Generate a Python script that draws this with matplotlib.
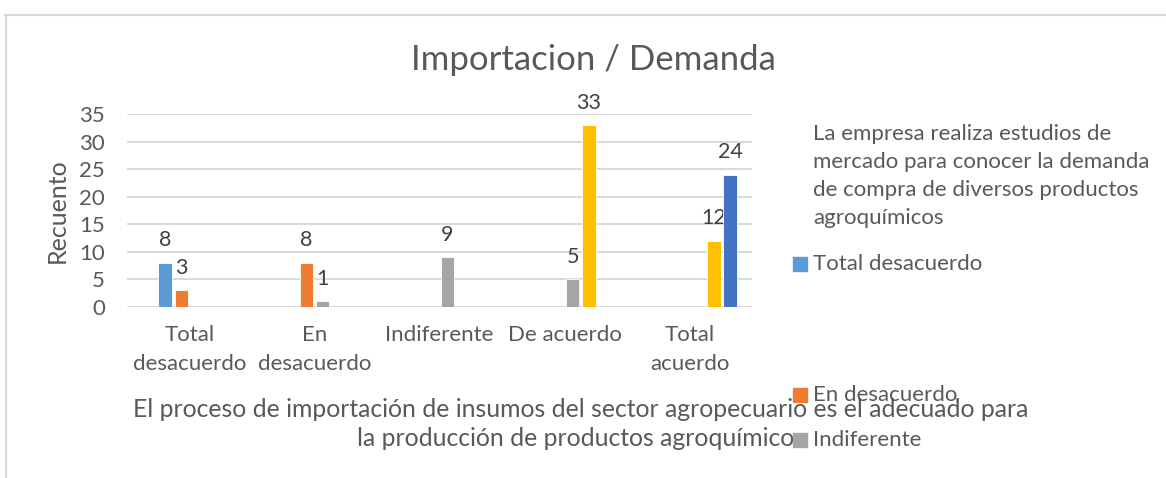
import numpy as np
import matplotlib.pyplot as plt
from matplotlib.patches import Rectangle
from matplotlib.lines import Line2D

plt.rcParams['font.family'] = ['Lato', 'DejaVu Sans']

categories = ['Total\ndesacuerdo', 'En\ndesacuerdo', 'Indiferente', 'De acuerdo', 'Total\nacuerdo']
series_names = ['Total desacuerdo', 'En desacuerdo', 'Indiferente', 'De acuerdo', 'Total acuerdo']
series_colors = ['#5B9BD5', '#ED7D31', '#A5A5A5', '#FFC000', '#4472C4']
total_desacuerdo = [8, 0, 0, 0, 0]
en_desacuerdo = [3, 8, 0, 0, 0]
indiferente = [0, 1, 9, 5, 0]
de_acuerdo = [0, 0, 0, 33, 12]
total_acuerdo = [0, 0, 0, 0, 24]
series_values = [total_desacuerdo, en_desacuerdo, indiferente, de_acuerdo, total_acuerdo]

W, H = 1166, 478
fig = plt.figure(figsize=(W / 100, H / 100), dpi=100)
ax = fig.add_axes([127 / W, 1 - 307 / H, 625 / W, 193 / H])

text_col = '#595959'
x = np.arange(len(categories))
slot = 0.13
bar_w = 0.108
# excel layout: 6 slots per group, the first one empty
for i, (name, vals, col) in enumerate(zip(series_names, series_values, series_colors)):
    off = (i + 1 - 2.5) * slot
    vals = np.array(vals, dtype=float)
    mask = vals > 0
    ax.bar(x[mask] + off, vals[mask], width=bar_w, color=col, edgecolor='white', linewidth=0.6, zorder=3)
    for xi, v in zip(x[mask] + off, vals[mask]):
        ax.annotate(f'{int(v)}', (xi, v), xytext=(0, 9), textcoords='offset points',
                    ha='center', va='bottom', fontsize=15.5, color='#404040')

ax.set_xlim(-0.5, len(categories) - 0.5)
ax.set_ylim(0, 35)
ax.set_yticks(range(0, 36, 5))
ax.set_xticks(x)
ax.set_xticklabels(categories, linespacing=1.55)
ax.tick_params(axis='both', length=0, labelsize=16, labelcolor=text_col)
ax.tick_params(axis='y', pad=16)
ax.tick_params(axis='x', pad=13)
ax.grid(axis='y', color='#D9D9D9', linewidth=1.4, zorder=0)
for s in ax.spines.values():
    s.set_visible(False)

fig.text(593 / W, 1 - 60 / H, 'Importacion / Demanda', ha='center', va='center',
         fontsize=25, color=text_col)
fig.text(57 / W, 1 - 211 / H, 'Recuento', rotation=90, ha='center', va='center',
         fontsize=18, color=text_col)
fig.text(581 / W, 1 - 424 / H,
         'El proceso de importación de insumos del sector agropecuario es el adecuado para\n'
         'la producción de productos agroquímicos',
         ha='center', va='center', multialignment='center', linespacing=1.35,
         fontsize=17.8, color=text_col, zorder=3)

# legend (excel squeezed layout)
fig.text(813 / W, 1 - 176 / H,
         'La empresa realiza estudios de\nmercado para conocer la demanda\n'
         'de compra de diversos productos\nagroquímicos',
         ha='left', va='center', linespacing=1.5, fontsize=16, color=text_col)
legend_y = [264, 395, 440]
for name, col, yy in zip(series_names, series_colors, legend_y):
    fig.add_artist(Rectangle((793 / W, 1 - (yy + 7) / H), 14 / W, 14 / H,
                             transform=fig.transFigure, color=col, zorder=10))
    fig.text(813 / W, 1 - yy / H, name, ha='left', va='center', fontsize=16,
             color=text_col, zorder=10)

# chart border
fig.add_artist(Line2D([5 / W, 1], [1 - 15 / H, 1 - 15 / H], transform=fig.transFigure,
                      color='#D9D9D9', linewidth=1.5))
fig.add_artist(Line2D([6 / W, 6 / W], [0, 1 - 15 / H], transform=fig.transFigure,
                      color='#D9D9D9', linewidth=1.5))

fig.savefig('out.png', dpi=100)
